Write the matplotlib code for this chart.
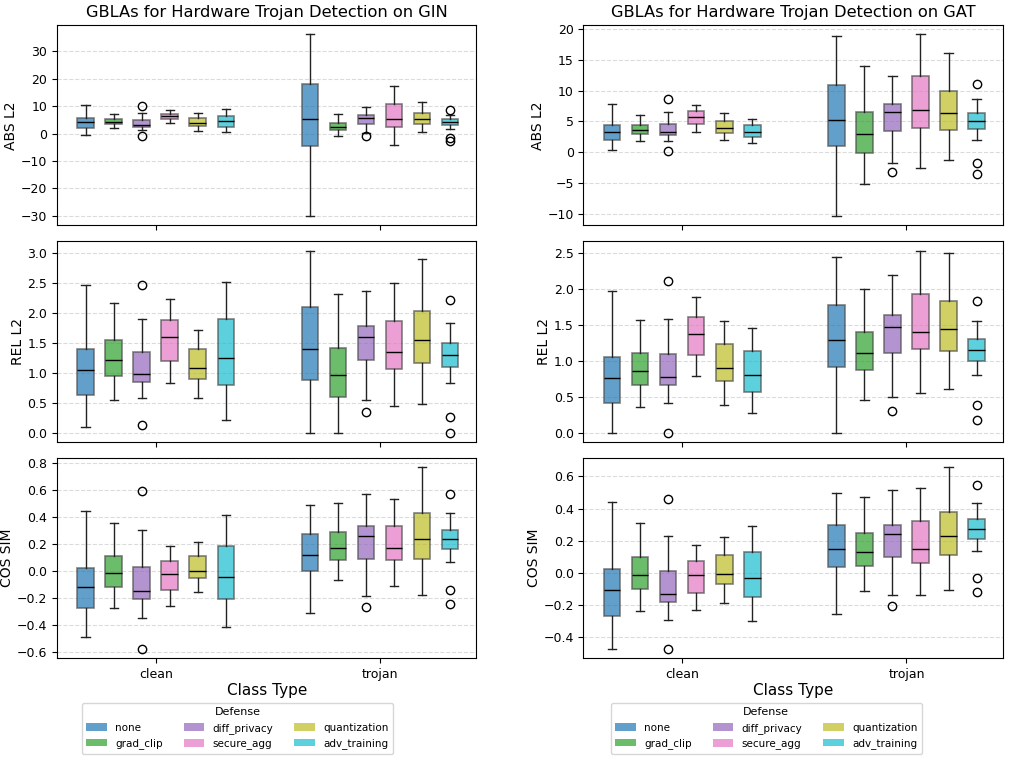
import matplotlib
matplotlib.use("Agg")
import matplotlib.pyplot as plt
from matplotlib.patches import Patch

classes = ["clean", "trojan"]
defenses = ["none", "grad_clip", "diff_privacy", "secure_agg", "quantization", "adv_training"]
colors = ["#1f77b4", "#2ca02c", "#9467bd", "#e377c2", "#bcbd22", "#17becf"]

# (whislo, q1, med, q3, whishi) per box: clean x6 then trojan x6
gin_abs = [(-0.4, 2.0, 4.2, 5.7, 10.6), (2.1, 3.4, 4.3, 5.3, 7.1), (1.4, 2.5, 3.1, 4.8, 7.4),
           (3.8, 5.3, 6.4, 7.3, 8.6), (1.0, 2.9, 3.8, 5.7, 7.4), (0.6, 2.6, 4.5, 6.6, 9.1),
           (-30.2, -4.4, 5.3, 18.3, 36.3), (-0.9, 1.2, 2.5, 4.0, 7.0), (0.4, 3.6, 5.7, 6.8, 9.7),
           (-4.2, 2.4, 5.2, 10.7, 17.3), (0.5, 3.6, 5.4, 7.6, 11.6), (1.8, 3.1, 4.2, 5.2, 6.8)]
gin_abs_fl = [[], [], [10.2, -0.8], [], [], [],
              [], [], [-0.8], [], [], [8.8, -1.5, -2.6]]

gat_abs = [(0.27, 1.95, 3.3, 4.4, 7.9), (1.85, 3.0, 3.6, 4.4, 6.0), (1.85, 2.8, 3.3, 4.55, 6.6),
           (3.35, 4.55, 5.8, 6.7, 7.75), (1.95, 3.1, 3.9, 5.1, 6.3), (1.45, 2.5, 3.3, 4.35, 5.45),
           (-10.45, 0.95, 5.25, 11.0, 18.9), (-5.15, -0.1, 2.9, 6.6, 14.0), (-1.7, 3.5, 6.5, 7.85, 12.35),
           (-2.55, 4.0, 6.8, 12.4, 19.2), (-1.2, 3.6, 6.35, 9.9, 16.2), (1.95, 3.7, 5.05, 6.3, 8.6)]
gat_abs_fl = [[], [], [8.7, 0.15], [], [], [],
              [], [], [-3.2], [], [], [11.1, -1.8, -3.6]]

gin_rel = [(0.09, 0.63, 1.04, 1.40, 2.47), (0.54, 0.95, 1.21, 1.54, 2.16), (0.58, 0.85, 0.98, 1.34, 1.89),
           (0.82, 1.20, 1.59, 1.88, 2.23), (0.58, 0.89, 1.08, 1.40, 1.71), (0.21, 0.79, 1.25, 1.89, 2.52),
           (0.0, 0.87, 1.40, 2.09, 3.04), (0.0, 0.59, 0.96, 1.42, 2.32), (0.54, 1.21, 1.60, 1.78, 2.36),
           (0.45, 1.07, 1.34, 1.86, 2.50), (0.48, 1.16, 1.55, 2.03, 2.90), (0.83, 1.09, 1.30, 1.49, 1.83)]
gin_rel_fl = [[], [], [2.47, 0.12], [], [], [],
              [], [], [0.35], [], [], [2.21, 0.26, 0.0]]

gat_rel = [(0.0, 0.41, 0.76, 1.06, 1.98), (0.36, 0.67, 0.86, 1.11, 1.57), (0.41, 0.66, 0.77, 1.09, 1.58),
           (0.79, 1.08, 1.38, 1.61, 1.89), (0.38, 0.72, 0.90, 1.24, 1.56), (0.28, 0.57, 0.81, 1.14, 1.46),
           (0.0, 0.92, 1.29, 1.78, 2.45), (0.46, 0.87, 1.11, 1.41, 2.00), (0.49, 1.11, 1.48, 1.64, 2.20),
           (0.55, 1.16, 1.41, 1.93, 2.54), (0.61, 1.14, 1.45, 1.83, 2.51), (0.81, 1.00, 1.15, 1.30, 1.56)]
gat_rel_fl = [[], [], [2.11, 0.0], [], [], [],
              [], [], [0.30], [], [], [1.84, 0.39, 0.18]]

gin_cos = [(-0.49, -0.28, -0.12, 0.02, 0.44), (-0.28, -0.12, -0.02, 0.11, 0.35), (-0.35, -0.21, -0.15, 0.025, 0.30),
           (-0.265, -0.145, -0.025, 0.07, 0.18), (-0.16, -0.055, 0.0, 0.11, 0.21), (-0.42, -0.21, -0.045, 0.185, 0.41),
           (-0.315, 0.0, 0.115, 0.275, 0.49), (-0.07, 0.08, 0.17, 0.285, 0.505), (-0.185, 0.09, 0.255, 0.33, 0.57),
           (-0.115, 0.08, 0.165, 0.33, 0.53), (-0.18, 0.085, 0.235, 0.425, 0.77), (0.065, 0.16, 0.235, 0.305, 0.43)]
gin_cos_fl = [[], [], [0.59, -0.58], [], [], [],
              [], [], [-0.27], [], [], [0.57, -0.145, -0.25]]

gat_cos = [(-0.475, -0.27, -0.11, 0.025, 0.44), (-0.24, -0.10, -0.013, 0.095, 0.31), (-0.295, -0.18, -0.135, 0.01, 0.23),
           (-0.23, -0.125, -0.013, 0.07, 0.17), (-0.19, -0.07, -0.007, 0.11, 0.225), (-0.30, -0.15, -0.035, 0.13, 0.29),
           (-0.255, 0.035, 0.148, 0.295, 0.495), (-0.115, 0.04, 0.13, 0.245, 0.47), (-0.14, 0.10, 0.24, 0.30, 0.515),
           (-0.14, 0.062, 0.148, 0.32, 0.525), (-0.105, 0.11, 0.23, 0.38, 0.66), (0.135, 0.21, 0.275, 0.335, 0.435)]
gat_cos_fl = [[], [], [0.46, -0.475], [], [], [],
              [], [], [-0.21], [], [], [0.545, -0.035, -0.12]]

panels = [[(gin_abs, gin_abs_fl), (gat_abs, gat_abs_fl)],
          [(gin_rel, gin_rel_fl), (gat_rel, gat_rel_fl)],
          [(gin_cos, gin_cos_fl), (gat_cos, gat_cos_fl)]]
ylabels = ["ABS L2", "REL L2", "COS SIM"]
titles = ["GBLAs for Hardware Trojan Detection on GIN", "GBLAs for Hardware Trojan Detection on GAT"]

fig, axes = plt.subplots(3, 2, figsize=(10.11, 7.62), dpi=100, sharex=True)
fig.subplots_adjust(left=0.0564, right=0.992, top=0.967, bottom=0.1365, hspace=0.08, wspace=0.255)

step = 0.125
width = 0.074
for r in range(3):
    for c in range(2):
        ax = axes[r, c]
        boxes, fliers = panels[r][c]
        stats, pos = [], []
        for ci in range(len(classes)):
            for di in range(len(defenses)):
                k = ci * len(defenses) + di
                lo, q1, med, q3, hi = boxes[k]
                stats.append(dict(whislo=lo, q1=q1, med=med, q3=q3, whishi=hi, fliers=fliers[k]))
                pos.append(ci + (di - 2.5) * step)
        bp = ax.bxp(stats, positions=pos, widths=width, patch_artist=True, manage_ticks=False,
                    boxprops=dict(linewidth=1.2),
                    whiskerprops=dict(color="#222222", linewidth=1.0),
                    capprops=dict(color="#222222", linewidth=1.0),
                    medianprops=dict(color="black", linewidth=1.0),
                    flierprops=dict(marker="o", markerfacecolor="none", markeredgecolor="black",
                                    markersize=6, markeredgewidth=1.0))
        for i, patch in enumerate(bp["boxes"]):
            patch.set_facecolor(colors[i % len(defenses)])
            patch.set_edgecolor("#4d4d4d")
            patch.set_alpha(0.7)
        ax.set_xlim(-0.44, 1.43)
        ax.set_xticks(range(len(classes)))
        ax.set_xticklabels(classes, fontsize=9)
        ax.tick_params(axis="y", labelsize=9)
        ax.yaxis.grid(True, linestyle="--", color="#cccccc", alpha=0.7, linewidth=0.8)
        ax.set_axisbelow(True)
        ax.set_ylabel(ylabels[r], fontsize=10, labelpad=2)
        if r == 0:
            ax.set_title(titles[c], fontsize=11.7)
        if r == 2:
            ax.set_xlabel("Class Type", fontsize=11, labelpad=2)
            handles = [Patch(facecolor=col, alpha=0.7, label=d) for col, d in zip(colors, defenses)]
            ax.legend(handles=handles, title="Defense", ncol=3, fontsize=7.5, title_fontsize=8,
                      loc="upper center", bbox_to_anchor=(0.43 if c == 0 else 0.436, -0.2),
                      frameon=True)

fig.savefig("out.png", dpi=100)
